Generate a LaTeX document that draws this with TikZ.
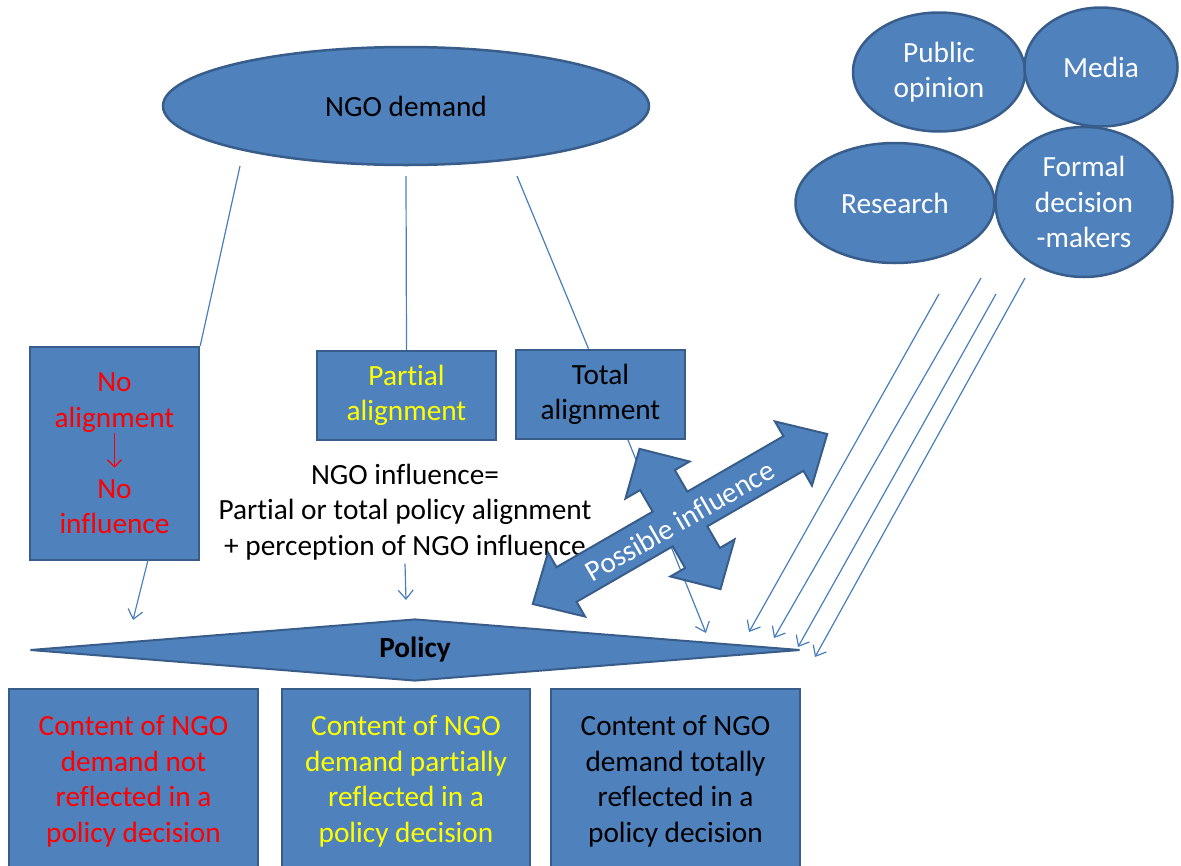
\documentclass[tikz,border=0pt]{standalone}
\usepackage{fontspec}
\setmainfont{Carlito}[Ligatures=NoCommon]
\usetikzlibrary{shapes.geometric,arrows.meta,calc}
\definecolor{ofblue}{HTML}{4F81BD}
\definecolor{ofedge}{HTML}{385D8A}
\definecolor{lnblue}{HTML}{4A7EBB}
\definecolor{ylw}{HTML}{FFFF00}
\begin{document}
\begin{tikzpicture}[x=1pt,y=-1pt,
  txt/.style={font=\fontsize{29.3}{35.5}\selectfont, align=center},
  blob/.style={ellipse, fill=ofblue, draw=ofedge, line width=2.5pt, inner sep=0pt, txt, text=white},
  panel/.style={rectangle, fill=ofblue, draw=ofedge, line width=2.5pt, inner sep=0pt, txt},
  link/.style={draw=lnblue, line width=1.2pt},
  arr/.style={link, -{Straight Barb[length=9pt,width=15pt]}}
]
\useasboundingbox (0,0) rectangle (1181,865);

% driving factors (top right)
\node[blob, minimum width=172pt, minimum height=119pt] (public) at (939,72) {Public\\opinion};
\node[blob, minimum width=153pt, minimum height=119pt] (media) at (1101,67) {Media};
\node[blob, minimum width=199pt, minimum height=120pt] (research) at (895,203) {Research};
\node[blob, minimum width=177pt, minimum height=150pt] (formal) at (1084,202) {Formal\\decision\\-makers};

% NGO demand
\node[blob, minimum width=486pt, minimum height=118pt, text=black] (demand) at (406,106) {NGO demand};

% alignment categories
\node[panel, minimum width=169pt, minimum height=213pt, text=red] (noal) at (114.5,453.5) {No\\alignment\\\strut\\No\\influence};
\node[panel, minimum width=179pt, minimum height=89pt, text=ylw] (partial) at (406.5,395.5) {\raisebox{-3pt}{\parbox{170pt}{\centering Partial\\alignment}}};
\node[panel, minimum width=169pt, minimum height=89pt] (total) at (600.5,394.5) {\raisebox{-3pt}{\parbox{160pt}{\centering Total\\alignment}}};

\node[txt] (infl) at (405,512) {NGO influence=\\Partial or total policy alignment\\+ perception of NGO influence};

% policy
\node[diamond, shape aspect=12, fill=ofblue, draw=ofedge, line width=2pt, inner sep=0pt,
      minimum width=770pt, minimum height=62pt, font=\fontsize{29.3}{35.5}\selectfont\bfseries] (policy) at (415,650) {Policy};

% outcomes
\node[panel, minimum width=249pt, minimum height=185pt, text=red] (out1) at (133.5,781.5) {Content of NGO\\demand not\\reflected in a\\policy decision};
\node[panel, minimum width=248pt, minimum height=185pt, text=ylw] (out2) at (406,781.5) {Content of NGO\\demand partially\\reflected in a\\policy decision};
\node[panel, minimum width=249pt, minimum height=185pt] (out3) at (675.5,781.5) {Content of NGO\\demand totally\\reflected in a\\policy decision};

% connectors from the demand to the categories
\coordinate (d1) at (240,166);
\coordinate (d2) at (406,176);
\coordinate (d3) at (517,176);
\draw[link] (d1) -- (noal.north east);
\draw[link] (d2) -- (partial.north);
\draw[link] (d3) -- ($(total.north)+(-12,0)$);

% connectors from the categories to the policy
\coordinate (n1) at (148,560);
\coordinate (n2) at (133,620);
\coordinate (p2) at (406,600);
\coordinate (t1) at (628,440);
\coordinate (t2) at (706,633);
\draw[arr] (n1) -- (n2);
\draw[arr] (infl.south) -- (p2);
\draw[arr] (t1) -- (t2);

% connectors from the other factors to the policy
\coordinate (f1a) at (939,294); \coordinate (f1b) at (749,632);
\coordinate (f2a) at (981,278); \coordinate (f2b) at (774,638);
\coordinate (f3a) at (996,294); \coordinate (f3b) at (798,647);
\coordinate (f4a) at (1025,278); \coordinate (f4b) at (815,657);
\draw[arr] (f1a) -- (f1b);
\draw[arr] (f2a) -- (f2b);
\draw[arr] (f3a) -- (f3b);
\draw[arr] (f4a) -- (f4b);

% arrow inside the no-alignment box
\draw[red, line width=1.2pt, -{Straight Barb[length=7pt,width=14pt]}]
  ($(noal.center)+(0,-21)$) -- ($(noal.center)+(0,14)$);

% four-headed "possible influence" arrow
\begin{scope}[shift={(680,519)}, rotate=30]
\filldraw[fill=ofblue, draw=ofedge, line width=2pt, line join=miter]
  (170,0) -- (131,37) -- (131,20) -- (20,20) -- (20,45) -- (37,45) -- (0,81)
  -- (-37,45) -- (-20,45) -- (-20,20) -- (-131,20) -- (-131,37) -- (-170,0)
  -- (-131,-37) -- (-131,-20) -- (-20,-20) -- (-20,-45) -- (-37,-45) -- (0,-81)
  -- (37,-45) -- (20,-45) -- (20,-20) -- (131,-20) -- (131,-37) -- cycle;
\end{scope}
\node[txt, text=white, rotate=30] (possible) at (680,521) {Possible influence};
\end{tikzpicture}
\end{document}
